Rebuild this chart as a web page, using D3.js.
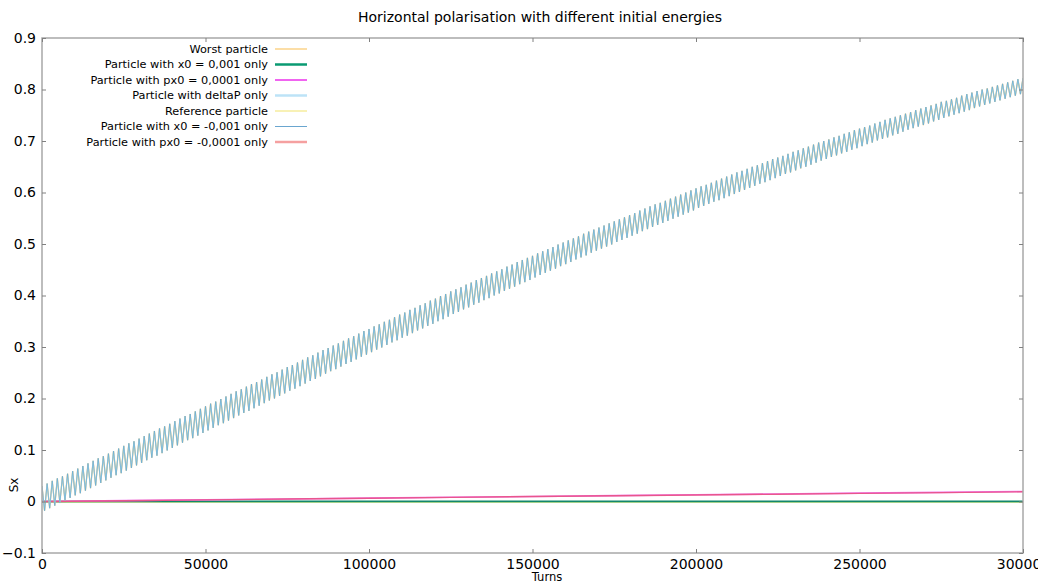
<!DOCTYPE html>
<html><head><meta charset="utf-8">
<script src="https://cdn.jsdelivr.net/npm/d3@7"></script>
<style>
html,body{margin:0;padding:0;background:#fff;}
svg{display:block;font-family:"DejaVu Sans",Verdana,sans-serif;}
</style></head>
<body>
<svg id="chart" width="1038" height="583"></svg>
<script>
// ---------------- data ----------------
const chartTitle = "Horizontal polarisation with different initial energies";
const xLabel = "Turns";
const yLabel = "Sx";
const xTicks = [0, 50000, 100000, 150000, 200000, 250000, 300000];
const yTicks = [-0.1, 0, 0.1, 0.2, 0.3, 0.4, 0.5, 0.6, 0.7, 0.8, 0.9];

const bandStep = 781.25;
const deltaPSx = [
 .030,-.018,.035,-.013,.040,-.008,.045,-.003,.049,.002,.054,.007,.059,.012,.064,.016,.069,
 .021,.074,.026,.079,.031,.084,.036,.088,.041,.093,.046,.098,.051,.103,.055,.108,
 .060,.113,.065,.117,.070,.122,.075,.127,.080,.132,.085,.137,.089,.142,.094,.146,
 .099,.151,.104,.156,.109,.161,.114,.166,.119,.170,.123,.175,.128,.180,.133,.185,
 .138,.190,.143,.194,.148,.199,.152,.204,.157,.209,.162,.214,.167,.218,.172,.223,
 .176,.228,.181,.232,.186,.237,.191,.242,.196,.247,.200,.251,.205,.256,.210,.261,
 .215,.265,.219,.270,.224,.275,.229,.280,.234,.284,.238,.289,.243,.294,.248,.298,
 .253,.303,.257,.307,.262,.312,.267,.317,.271,.321,.276,.326,.281,.331,.285,.335,
 .290,.340,.295,.344,.299,.349,.304,.353,.309,.358,.313,.363,.318,.367,.322,.372,
 .327,.376,.332,.381,.336,.385,.341,.390,.345,.394,.350,.399,.354,.403,.359,.408,
 .364,.412,.368,.416,.373,.421,.377,.425,.382,.430,.386,.434,.391,.438,.395,.443,
 .400,.447,.404,.451,.409,.456,.413,.460,.417,.465,.422,.469,.426,.473,.430,.477,
 .435,.482,.440,.486,.444,.490,.448,.494,.452,.499,.457,.503,.461,.507,.465,.511,
 .470,.515,.474,.520,.478,.524,.483,.528,.487,.532,.491,.536,.495,.540,.499,.544,
 .504,.548,.508,.552,.512,.556,.516,.560,.520,.565,.525,.569,.529,.573,.533,.577,
 .537,.580,.541,.584,.545,.588,.549,.592,.553,.596,.557,.600,.561,.604,.565,.608,
 .570,.612,.574,.615,.578,.619,.582,.623,.585,.627,.589,.631,.593,.635,.597,.639,
 .601,.642,.605,.646,.609,.650,.613,.653,.617,.657,.620,.661,.624,.665,.628,.668,
 .632,.671,.636,.675,.639,.679,.643,.682,.647,.686,.650,.689,.654,.693,.658,.697,
 .662,.700,.665,.703,.669,.707,.672,.710,.676,.714,.679,.717,.683,.721,.686,.724,
 .690,.727,.694,.730,.697,.734,.701,.737,.704,.741,.707,.744,.711,.747,.714,.750,
 .718,.753,.722,.756,.725,.760,.728,.763,.731,.766,.734,.769,.738,.772,.741,.776,
 .745,.778,.748,.781,.751,.784,.754,.788,.757,.791,.760,.794,.764,.797,.767,.800,
 .770,.802,.773,.805,.776,.808,.779,.811,.782,.814,.785,.817,.788,.820,.791,.822
];
// worst particle and x0=-0.001 follow the deltaP curve at this resolution
const worstSx = deltaPSx;
const x0NegSx = deltaPSx;

// slowly varying series
const slowTurns = [0, 25000, 50000, 75000, 100000, 125000, 150000, 175000, 200000, 225000, 250000, 275000, 300000];
const px0PosSx = [0, .0017, .0033, .0050, .0066, .0082, .0098, .0114, .0130, .0146, .0162, .0178, .0194];
const px0NegSx = [0, .0016, .0032, .0048, .0064, .0080, .0096, .0112, .0127, .0142, .0158, .0173, .0188];
const x0PosSx  = [0, .0002, .0003, .0003, .0003, .0003, .0003, .0003, .0003, .0003, .0003, .0003, .0003];
const referenceSx = [-.0012, -.0012, -.0012, -.0012, -.0012, -.0012, -.0012, -.0012, -.0012, -.0012, -.0012, -.0012, -.0012];

const legendLabels = [
  "Worst particle",
  "Particle with x0 = 0,001 only",
  "Particle with px0 = 0,0001 only",
  "Particle with deltaP only",
  "Reference particle",
  "Particle with x0 = -0,001 only",
  "Particle with px0 = -0,0001 only"
];
const legendColors = ["#f9bd4e", "#0a9a72", "#f064f0", "#bde3f7", "#f1e36c", "#6aa6cf", "#f5a0a0"];
const legendWidths = [1, 2.5, 2, 2.5, 1, 1, 2.5];

// ---------------- drawing ----------------
const svg = d3.select("#chart");
const L = 42, R = 1023, T = 38, B = 553;
const x = d3.scaleLinear().domain([0, 300000]).range([L, R]);
const y = d3.scaleLinear().domain([-0.1, 0.9]).range([B, T]);

const fmtX = d3.format("d");
const fmtY = v => (Math.abs(v) < 1e-9 ? "0" : d3.format(".1f")(v));

// title
svg.append("text").attr("x", 540).attr("y", 22).attr("text-anchor", "middle")
  .attr("font-size", 14).attr("fill", "#000").text(chartTitle);

// clip
svg.append("defs").append("clipPath").attr("id", "plotclip")
  .append("rect").attr("x", L).attr("y", T).attr("width", R - L).attr("height", B - T);

const plot = svg.append("g").attr("clip-path", "url(#plotclip)");

const bandLine = d3.line().x((d, i) => x(i * bandStep)).y(d => y(d));
const slowLine = d3.line().x((d, i) => x(slowTurns[i])).y(d => y(d));

// near-zero series
plot.append("path").datum(referenceSx).attr("d", slowLine).attr("fill", "none")
  .attr("stroke", "#c8e070").attr("stroke-width", 1.5);
plot.append("path").datum(x0PosSx).attr("d", slowLine).attr("fill", "none")
  .attr("stroke", "#12876c").attr("stroke-width", 1.6);
plot.append("path").datum(px0PosSx).attr("d", slowLine).attr("fill", "none")
  .attr("stroke", "#f070f0").attr("stroke-width", 1.6);
plot.append("path").datum(px0NegSx).attr("d", slowLine).attr("fill", "none")
  .attr("stroke", "#e8507a").attr("stroke-width", 1.4).attr("stroke-opacity", 0.85);

// oscillating series
plot.append("path").datum(worstSx).attr("d", bandLine).attr("fill", "none")
  .attr("stroke", "#f7b43c").attr("stroke-width", 1.3).attr("stroke-opacity", 0.75);
plot.append("path").datum(deltaPSx).attr("d", bandLine).attr("fill", "none")
  .attr("stroke", "#a8d8ee").attr("stroke-width", 1.1);
plot.append("path").datum(x0NegSx).attr("d", bandLine).attr("fill", "none")
  .attr("stroke", "#5a9fc8").attr("stroke-width", 0.7).attr("stroke-opacity", 0.75);

// frame
svg.append("rect").attr("x", L).attr("y", T).attr("width", R - L).attr("height", B - T)
  .attr("fill", "none").attr("stroke", "#a8a8a8").attr("stroke-width", 1.5);

// axes
function styleAxis(g) {
  g.select(".domain").remove();
  g.selectAll(".tick line").attr("stroke", "#808080").attr("stroke-width", 1);
  g.selectAll(".tick text").attr("fill", "#000").attr("font-size", 14)
    .attr("font-family", "DejaVu Sans, Verdana, sans-serif");
}
svg.append("g").attr("transform", `translate(${L},0)`)
  .call(d3.axisLeft(y).tickValues(yTicks).tickFormat(fmtY).tickSizeInner(-4).tickSizeOuter(0).tickPadding(6))
  .call(styleAxis);
svg.append("g").attr("transform", `translate(${R},0)`)
  .call(d3.axisRight(y).tickValues(yTicks).tickFormat("").tickSizeInner(-4).tickSizeOuter(0))
  .call(styleAxis);
svg.append("g").attr("transform", `translate(0,${B})`)
  .call(d3.axisBottom(x).tickValues(xTicks).tickFormat(fmtX).tickSizeInner(-4).tickSizeOuter(0).tickPadding(6))
  .call(styleAxis);
svg.append("g").attr("transform", `translate(0,${T})`)
  .call(d3.axisTop(x).tickValues(xTicks).tickFormat("").tickSizeInner(-4).tickSizeOuter(0))
  .call(styleAxis);

// axis labels
svg.append("text").attr("x", 547).attr("y", 581).attr("text-anchor", "middle")
  .attr("font-size", 11.5).attr("fill", "#000").text(xLabel);
svg.append("text").attr("transform", "translate(18,485) rotate(-90)").attr("text-anchor", "middle")
  .attr("font-size", 12).attr("fill", "#000").text(yLabel);

// legend
const leg = svg.append("g");
legendLabels.forEach((lab, i) => {
  const yy = 49 + i * 15.5;
  leg.append("text").attr("x", 268).attr("y", yy).attr("dy", "0.35em")
    .attr("text-anchor", "end").attr("font-size", 11.3).attr("fill", "#000").text(lab);
  leg.append("line").attr("x1", 275).attr("x2", 307).attr("y1", yy).attr("y2", yy)
    .attr("stroke", legendColors[i]).attr("stroke-width", legendWidths[i]);
});
</script>
</body></html>
